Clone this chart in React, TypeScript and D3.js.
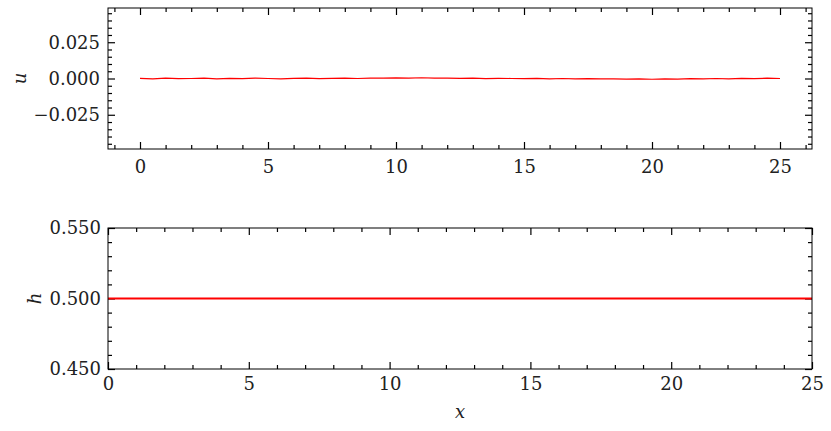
import React, { useEffect, useRef } from "react";
import * as d3 from "d3";

// velocity u(x), one value every 0.5 in x
const uX = d3.range(0, 25.001, 0.5);
const uValues = [
  0.0001, -0.0002, 0.0002, -0.0001, 0.0, 0.0002, -0.0002, 0.0001, -0.0001, 0.0002,
  0.0, -0.0002, 0.0001, 0.0002, -0.0001, 0.0001, 0.0003, 0.0, 0.0003, 0.0002,
  0.0004, 0.0003, 0.0005, 0.0002, 0.0003, 0.0001, 0.0002, -0.0001, 0.0001, 0.0,
  -0.0001, 0.0001, -0.0002, 0.0, -0.0002, -0.0001, -0.0003, -0.0002, -0.0004, -0.0003,
  -0.0005, -0.0002, -0.0004, -0.0001, -0.0003, 0.0, -0.0002, 0.0001, -0.0001, 0.0002,
  0.0,
];

// depth h(x) from the bottom panel, one value per unit of x
const hX = d3.range(0, 26, 1);
const hValues = [
  0.5, 0.5, 0.5, 0.5, 0.5, 0.5, 0.5, 0.5, 0.5, 0.5, 0.5, 0.5, 0.5,
  0.5, 0.5, 0.5, 0.5, 0.5, 0.5, 0.5, 0.5, 0.5, 0.5, 0.5, 0.5, 0.5,
];

const uTicksX = [0, 5, 10, 15, 20, 25];
const uTicksY = [-0.025, 0, 0.025];
const hTicksX = [0, 5, 10, 15, 20, 25];
const hTicksY = [0.45, 0.5, 0.55];

const FONT = "DejaVu Serif";
const FS = 18;

const App = () => {
  const ref = useRef<SVGSVGElement>(null);

  useEffect(() => {
    const svg = d3.select(ref.current);
    svg.selectAll("*").remove();

    const left = 108;
    const right = 812;

    const fmtY = (d: number) => d3.format(".3f")(d).replace("-", "\u2212");

    const panel = (opts: any) => {
      const { top, bottom, xDom, yDom, xTicks, yTicks, xMinor, yMinor, xPad, yPad, xs, ys, lw, ylab, ylabX } = opts;
      const x = d3.scaleLinear().domain(xDom).range([left, right]);
      const y = d3.scaleLinear().domain(yDom).range([bottom, top]);
      const g = svg.append("g");

      const styleAxis = (sel: any) => {
        sel.select(".domain").remove();
        sel.selectAll("line").attr("stroke", "#000").attr("stroke-width", 1.2);
        sel.selectAll("text").style("font-family", FONT).style("font-size", FS + "px").attr("fill", "#222");
      };

      // minor ticks on all four sides, major ticks mirrored on top/right
      const extra: [any, string][] = [
        [d3.axisBottom(x).tickValues(xMinor).tickSize(-4).tickFormat(() => ""), `translate(0,${bottom})`],
        [d3.axisTop(x).tickValues(xMinor).tickSize(-4).tickFormat(() => ""), `translate(0,${top})`],
        [d3.axisLeft(y).tickValues(yMinor).tickSize(-4).tickFormat(() => ""), `translate(${left},0)`],
        [d3.axisRight(y).tickValues(yMinor).tickSize(-4).tickFormat(() => ""), `translate(${right},0)`],
        [d3.axisTop(x).tickValues(xTicks).tickSize(-7).tickFormat(() => ""), `translate(0,${top})`],
        [d3.axisRight(y).tickValues(yTicks).tickSize(-7).tickFormat(() => ""), `translate(${right},0)`],
      ];
      extra.forEach(([ax, tr]) => g.append("g").attr("transform", tr).call(ax).call(styleAxis));

      g.append("g")
        .attr("transform", `translate(0,${bottom})`)
        .call(d3.axisBottom(x).tickValues(xTicks).tickSize(-7).tickPadding(xPad).tickFormat(d3.format("d")))
        .call(styleAxis);
      g.append("g")
        .attr("transform", `translate(${left},0)`)
        .call(d3.axisLeft(y).tickValues(yTicks).tickSize(-7).tickPadding(yPad).tickFormat(fmtY))
        .call(styleAxis);

      const line = d3
        .line<number>()
        .x((_, i) => x(xs[i]))
        .y((d) => y(d));
      g.append("path")
        .datum(ys)
        .attr("d", line)
        .attr("fill", "none")
        .attr("stroke", "#ff0000")
        .attr("stroke-width", lw);

      g.append("rect")
        .attr("x", left)
        .attr("y", top)
        .attr("width", right - left)
        .attr("height", bottom - top)
        .attr("fill", "none")
        .attr("stroke", "#000")
        .attr("stroke-width", 1);

      g.append("text")
        .attr("transform", `translate(${ylabX},${(top + bottom) / 2}) rotate(-90)`)
        .attr("text-anchor", "middle")
        .attr("dy", "0.3em")
        .style("font-family", FONT)
        .style("font-size", FS + "px")
        .style("font-style", "italic")
        .attr("fill", "#222")
        .text(ylab);
    };

    panel({
      top: 8,
      bottom: 149,
      xDom: [-1.25, 26.25],
      yDom: [-0.0486, 0.0486],
      xTicks: uTicksX,
      yTicks: uTicksY,
      xMinor: d3.range(-1, 27, 1).filter((v) => v % 5 !== 0),
      yMinor: d3.range(-0.045, 0.0451, 0.005).filter((v) => Math.abs(v / 0.025 - Math.round(v / 0.025)) > 0.01),
      xPad: 11,
      yPad: 8,
      xs: uX,
      ys: uValues,
      lw: 1.2,
      ylab: "u",
      ylabX: 21,
    });

    panel({
      top: 228,
      bottom: 369,
      xDom: [0, 25],
      yDom: [0.45, 0.55],
      xTicks: hTicksX,
      yTicks: hTicksY,
      xMinor: d3.range(1, 25, 1).filter((v) => v % 5 !== 0),
      yMinor: d3.range(0.46, 0.545, 0.01).filter((v) => Math.abs(v - 0.5) > 0.001),
      xPad: 8,
      yPad: 7,
      xs: hX,
      ys: hValues,
      lw: 2,
      ylab: "h",
      ylabX: 36,
    });

    svg
      .append("text")
      .attr("x", (left + right) / 2)
      .attr("y", 418)
      .attr("text-anchor", "middle")
      .style("font-family", FONT)
      .style("font-size", FS + "px")
      .style("font-style", "italic")
      .attr("fill", "#222")
      .text("x");
  }, []);

  return (
    <svg
      ref={ref}
      width={831}
      height={431}
      style={{ position: "absolute", left: 0, top: 0, background: "#fff" }}
    />
  );
};

export default App;
